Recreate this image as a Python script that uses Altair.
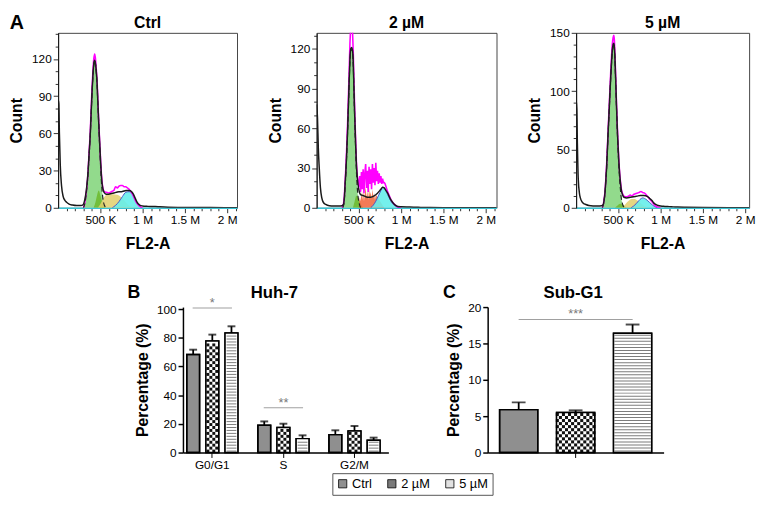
import altair as alt
import pandas as pd

FONT = "Liberation Sans"

# ---------------- Panel A : flow-cytometry histograms (x in K units of FL2-A, y = count)
CTRL_TOTAL = [(0, 87), (8, 84), (15, 60), (25, 35), (40, 18), (60, 9), (80, 6), (100, 4.5), (130, 3), (170, 2.2),
              (220, 1.8), (270, 1.8), (295, 2.5), (310, 5), (325, 10), (340, 18), (353, 28), (366, 43), (380, 59),
              (390, 75), (399, 90), (410, 105), (422, 116), (432, 119), (440, 117), (450, 111), (461, 100),
              (470, 85), (480, 69), (488, 57), (496, 46), (504, 35), (512, 26), (521, 19), (531, 15), (547, 12),
              (570, 11), (600, 11), (630, 11.5), (660, 12), (690, 12.5), (720, 13), (750, 13), (780, 13.5),
              (810, 14), (840, 14), (870, 13), (890, 11), (910, 8), (930, 5), (950, 3), (970, 2), (1000, 1.5),
              (1050, 1.2), (1100, 1), (1150, 1), (1200, 0.8), (1300, 0.5), (1500, 0.3), (1800, 0.2), (2150, 0.1)]
CTRL_FIT = [(300, 0), (320, 6), (340, 17), (353, 28), (366, 44), (380, 61), (390, 78), (399, 93), (410, 108),
            (422, 120), (432, 124), (440, 121), (450, 113), (461, 102), (470, 87), (480, 70), (488, 58), (496, 47),
            (504, 36), (512, 27), (521, 20), (531, 15.5), (547, 13), (570, 12.5), (600, 12), (630, 13), (660, 14),
            (680, 17), (700, 16), (720, 17.5), (740, 18), (760, 18), (780, 17), (800, 17), (820, 16), (840, 15),
            (860, 13), (880, 11), (900, 8), (920, 5), (940, 3), (960, 1.5), (980, 0.5), (1000, 0)]
CTRL_G1 = [(300, 0), (320, 5), (340, 16), (353, 27), (366, 42), (380, 58), (390, 74), (399, 89), (410, 104),
           (422, 115), (432, 119), (440, 117), (450, 110), (461, 99), (470, 84), (480, 68), (488, 55), (496, 43),
           (504, 31), (512, 21), (521, 13), (531, 7), (547, 2), (570, 0)]
CTRL_G1B = [(420, 0), (440, 4), (460, 10), (480, 14), (500, 10), (520, 5), (545, 1), (570, 0)]
CTRL_S = [(470, 0), (500, 3), (530, 7), (560, 10), (600, 11), (650, 11), (700, 10.5), (740, 9), (780, 6),
          (820, 3), (860, 1), (900, 0)]
CTRL_G2 = [(640, 0), (680, 2), (720, 5), (760, 9), (800, 12.5), (840, 13), (870, 12), (900, 8), (930, 4),
           (960, 1.5), (990, 0)]

UM2_TOTAL = [(0, 78), (10, 68), (20, 45), (31, 30), (45, 15), (61, 7.5), (80, 4), (107, 2.6), (150, 1.6),
             (200, 1.4), (260, 1.4), (300, 1.6), (318, 2.5), (328, 8), (337, 18), (347, 29), (356, 42), (366, 58),
             (376, 78), (386, 98), (394, 112), (404, 120), (414, 121), (424, 119), (433, 110), (442, 88), (452, 66),
             (462, 47), (471, 32), (481, 23), (491, 17), (505, 12), (520, 10), (560, 9), (600, 8), (640, 8),
             (680, 9), (720, 11), (760, 14), (780, 15.5), (800, 15), (820, 13), (840, 11), (870, 7), (900, 4),
             (930, 2), (960, 1), (1000, 0.8), (1100, 0.6), (1200, 0.4), (1300, 0.2), (1500, 0.1), (2150, 0.1)]
UM2_FIT = [(300, 0), (318, 3), (328, 9), (337, 20), (347, 32), (356, 46), (366, 63), (376, 84), (386, 106),
           (394, 124), (404, 138), (414, 142), (424, 134), (433, 118), (442, 95), (452, 70), (462, 50), (471, 34),
           (481, 24), (491, 19), (500, 16), (510, 24), (520, 12), (530, 27), (540, 14), (550, 29), (560, 11),
           (570, 26), (580, 33), (590, 15), (600, 28), (610, 12), (620, 31), (630, 18), (640, 29), (650, 14),
           (660, 33), (670, 19), (680, 30), (690, 17), (700, 34), (710, 20), (720, 28), (730, 18), (740, 26),
           (750, 19), (760, 24), (770, 18), (780, 22), (790, 19), (800, 19), (810, 18), (820, 16), (830, 14),
           (840, 12), (860, 9), (880, 6), (900, 4), (930, 2), (960, 0.5), (1000, 0)]
UM2_G1 = [(310, 0), (328, 6), (337, 16), (347, 27), (356, 40), (366, 56), (376, 76), (386, 96), (394, 110),
          (404, 118), (414, 120), (424, 117), (433, 108), (442, 86), (452, 63), (462, 43), (471, 27), (481, 15),
          (491, 8), (505, 3), (520, 0)]
UM2_G1B = [(430, 0), (450, 5), (470, 9), (490, 8), (510, 5), (530, 2), (550, 0)]
UM2_S = [(500, 0), (510, 8), (520, 5), (530, 12), (540, 6), (550, 14), (560, 5), (570, 11), (580, 16), (590, 7),
         (600, 13), (610, 6), (620, 15), (630, 9), (640, 12), (650, 7), (660, 14), (670, 8), (680, 11), (690, 6),
         (700, 10), (720, 8), (740, 6), (760, 4), (780, 2), (800, 0)]
UM2_G2 = [(640, 0), (670, 2), (700, 5), (730, 9), (760, 13), (780, 15.5), (800, 15), (820, 13), (840, 10),
          (870, 6), (900, 3), (930, 1.5), (970, 0)]

UM5_TOTAL = [(0, 92), (8, 85), (15, 55), (25, 25), (40, 12), (50, 8.5), (70, 5), (90, 3.5), (108, 3), (150, 2),
             (200, 1.6), (260, 1.6), (300, 1.8), (322, 3), (332, 7), (341, 12.6), (350, 22), (360, 34), (370, 50),
             (380, 67), (390, 82), (399, 97), (409, 112), (419, 125), (428, 135), (438, 140), (445, 141), (452, 138),
             (457, 132), (467, 112), (477, 89), (486, 70), (496, 53), (505, 40), (515, 29), (525, 21), (535, 15),
             (550, 11), (566, 9), (600, 8.5), (640, 9), (680, 9.5), (720, 10), (760, 10.5), (800, 10.5),
             (845, 9.6), (870, 8), (900, 6), (920, 4), (942, 3), (970, 2), (1000, 1.5), (1050, 1.2), (1100, 1),
             (1150, 0.8), (1200, 0.6), (1300, 0.4), (1500, 0.2), (2150, 0.1)]
UM5_FIT = [(310, 0), (322, 3), (332, 8), (341, 13.5), (350, 23), (360, 36), (370, 52), (380, 69), (390, 85),
           (399, 100), (409, 116), (419, 130), (428, 140), (438, 146), (445, 148), (452, 144), (457, 136),
           (467, 115), (477, 91), (486, 72), (496, 55), (505, 41), (515, 30), (525, 22), (535, 16), (550, 12),
           (566, 10), (600, 9.5), (620, 10), (640, 11), (660, 10), (680, 11.5), (700, 12), (720, 12.5), (740, 13),
           (767, 14), (790, 13), (810, 12.5), (830, 11), (850, 9.5), (870, 7.5), (900, 5), (920, 3), (942, 1.5),
           (970, 0.5), (1000, 0)]
UM5_G1 = [(310, 0), (322, 2.5), (332, 7), (341, 12), (350, 21), (360, 33), (370, 49), (380, 66), (390, 81),
          (399, 96), (409, 111), (419, 124), (428, 134), (438, 139), (445, 140), (452, 137), (457, 131), (467, 110),
          (477, 87), (486, 68), (496, 50), (505, 36), (515, 24), (525, 15), (535, 8), (550, 3), (570, 0)]
UM5_G1B = [(460, 0), (490, 2), (520, 3.5), (550, 3), (580, 1), (600, 0)]
UM5_S = [(540, 0), (570, 2), (600, 4.5), (630, 6.5), (660, 7.5), (690, 7.5), (720, 6.5), (750, 5), (780, 3),
         (820, 1), (850, 0)]
UM5_G2 = [(650, 0), (680, 1.5), (710, 3.5), (740, 6), (770, 8), (790, 8.5), (810, 8), (840, 6.5), (870, 4.5),
          (900, 2.5), (930, 1), (960, 0)]

PANEL_TITLES = ["Ctrl", "2 µM", "5 µM"]
Y_MAXES = [141, 132, 150]
Y_MAJOR_STEPS = [30, 30, 50]

# ---------------- Panel B : cell-cycle distribution
PHASES = ["G0/G1", "S", "G2/M"]
CONDITIONS = ["Ctrl", "2 µM", "5 µM"]
B_MEANS = {"Ctrl": [68.3, 19.0, 12.5], "2 µM": [77.8, 17.4, 15.0], "5 µM": [83.3, 9.7, 8.5]}
B_ERRS = {"Ctrl": [3.4, 2.7, 3.0], "2 µM": [4.4, 2.7, 3.5], "5 µM": [4.7, 2.3, 1.9]}
B_SIG_PHASE = ["G0/G1", "S"]
B_SIG_Y = [100.7, 31.3]
B_SIG_TEXT = ["*", "**"]

# ---------------- Panel C : Sub-G1
C_GROUP = "Sub-G1"
C_MEANS = [5.9, 5.5, 16.4]
C_ERRS = [1.0, 0.3, 1.2]
C_SIG_Y = [18.3]
C_SIG_TEXT = ["***"]

LEGEND_FILLS = ["#8f8f8f", "#7a7a7a", "#e2e2e2"]


def to_df(points):
    return pd.DataFrame(points, columns=["x", "y"])


def text_layer(txt, x, y, size, color="black", weight="bold", opacity=1):
    return alt.Chart(pd.DataFrame({"t": [txt]})).mark_text(
        font=FONT, fontSize=size, fontWeight=weight, align="center", baseline="middle", color=color,
        opacity=opacity,
    ).encode(text="t:N", x=alt.value(x), y=alt.value(y))


def hist_panel(title, curves, ymax, major, width, height, letter=None, jagged=False):
    total, fit, g1, g1b, sph, g2 = curves
    xmax = width * 500 / 43
    xs = alt.Scale(domain=[0, xmax], nice=False, zero=False)
    ys = alt.Scale(domain=[0, ymax], nice=False)
    xaxis = alt.Axis(
        values=list(range(100, int(xmax) + 1, 100)),
        labelExpr="datum.value === 500 ? '500 K' : (datum.value % 500 === 0 ? (datum.value / 1000) + ' M' : '')",
        tickSize={"condition": {"test": "datum.value % 500 === 0", "value": 5}, "value": 3},
        title="FL2-A", titleFontSize=16, titleFontWeight="bold", titlePadding=10,
        labelFontSize=12, labelPadding=2, domainColor="#39c4d4", domainWidth=1.5,
        tickColor="#333", labelFlush=False,
    )
    yaxis = alt.Axis(
        values=list(range(0, int(ymax) + 1, 10)),
        labelExpr=f"datum.value % {major} === 0 ? datum.label : ''",
        tickSize={"condition": {"test": f"datum.value % {major} === 0", "value": 5}, "value": 3},
        title="Count", titleFontSize=16, titleFontWeight="bold", titlePadding=7,
        labelFontSize=12, labelPadding=2, domainColor="#111", tickColor="#333",
    )
    X = alt.X("x:Q", scale=xs, axis=xaxis)
    Y = alt.Y("y:Q", scale=ys, axis=yaxis)
    interp = "linear" if jagged else "monotone"
    layers = [
        alt.Chart(to_df(g1)).mark_area(color="#86d67f", opacity=0.9, interpolate="monotone", clip=True).encode(X, Y),
        alt.Chart(to_df(g1b)).mark_area(color="#6cb82c", opacity=0.85, interpolate="monotone", clip=True).encode(X, Y),
        alt.Chart(to_df(sph)).mark_area(color=("#f0643a" if jagged else "#e2cf6c"), opacity=0.85,
                                        interpolate=interp, clip=True).encode(X, Y),
        alt.Chart(to_df(g2)).mark_area(color="#66eeea", opacity=0.9, interpolate="monotone", clip=True,
                                       line={"color": "#4d55c8", "strokeWidth": 1}).encode(X, Y),
        alt.Chart(to_df(fit)).mark_line(color="#ff00ff", strokeWidth=1.6, interpolate=interp, clip=True).encode(X, Y),
        alt.Chart(to_df(total)).mark_line(color="#1a1a1a", strokeWidth=1.5, interpolate="monotone", clip=True).encode(X, Y),
        alt.Chart(to_df(g1)).mark_line(color="#222", strokeWidth=1.2, strokeDash=[5, 3], interpolate="monotone",
                                       clip=True).encode(X, Y),
        text_layer(title, width / 2, -10, 16),
    ]
    if letter:
        layers.append(text_layer(letter, -42, -10, 20))
    return alt.layer(*layers).properties(
        width=width, height=height,
        view=alt.ViewBackground(stroke="#444", strokeWidth=1),
    )


TOP_W = [182, 183, 176]
TOP_H = 178
p1 = hist_panel(PANEL_TITLES[0], [CTRL_TOTAL, CTRL_FIT, CTRL_G1, CTRL_G1B, CTRL_S, CTRL_G2],
                Y_MAXES[0], Y_MAJOR_STEPS[0], TOP_W[0], TOP_H, letter="A")
p2 = hist_panel(PANEL_TITLES[1], [UM2_TOTAL, UM2_FIT, UM2_G1, UM2_G1B, UM2_S, UM2_G2],
                Y_MAXES[1], Y_MAJOR_STEPS[1], TOP_W[1], TOP_H, jagged=True)
p3 = hist_panel(PANEL_TITLES[2], [UM5_TOTAL, UM5_FIT, UM5_G1, UM5_G1B, UM5_S, UM5_G2],
                Y_MAXES[2], Y_MAJOR_STEPS[2], TOP_W[2], TOP_H)

# ---------------- bar charts
legend = alt.Legend(
    orient="none", legendX=279, legendY=448, direction="horizontal", title=None,
    symbolType="square", symbolSize=70, symbolStrokeColor="#000", symbolStrokeWidth=0.8,
    labelFont=FONT, labelFontSize=13, labelColor="black", strokeColor="#555", padding=4,
    columnPadding=13, labelOffset=3,
)
color = alt.Color("cond:N", scale=alt.Scale(domain=CONDITIONS, range=LEGEND_FILLS), legend=legend)


def bar_panel(df, group_field, groups, x_scale, x_axis, ys, yaxis, stripe_px, px_per_unit, bar_w, cap_w,
              sig_df, sig_w, title, title_xy, letter, letter_xy, width, height):
    X = alt.X(f"{group_field}:N", sort=groups, scale=x_scale, axis=x_axis)
    XO = alt.XOffset("cond:N", sort=CONDITIONS,
                     scale=alt.Scale(domain=CONDITIONS, paddingInner=0.33, paddingOuter=0.02))
    Y = alt.Y("value:Q", scale=ys, axis=yaxis)
    u = stripe_px / px_per_unit
    bars = alt.Chart(df).mark_bar(stroke="black", strokeWidth=1.5).encode(X, XO, Y, color=color)
    white = alt.Chart(df).transform_filter(alt.datum.cond != CONDITIONS[0]).mark_bar(
        fill="white", strokeWidth=0).encode(X, XO, Y)
    stripes = alt.Chart(df).transform_filter(alt.datum.cond == CONDITIONS[2]).transform_calculate(
        s=f"sequence({u / 2}, datum.value - {u / 3}, {u})"
    ).transform_flatten(["s"]).mark_tick(orient="horizontal", size=bar_w - 3, thickness=1, color="#444").encode(
        X, XO, alt.Y("s:Q", scale=ys, axis=yaxis))
    # checkerboard texture for the middle (2 µM) bar, which sits at the band centre
    ncol = int(round((bar_w - 1) / stripe_px))
    checks = []
    for j in range(ncol):
        dx = (j - (ncol - 1) / 2) * stripe_px
        start = u * (0.5 + (j % 2))
        checks.append(
            alt.Chart(df).transform_filter(alt.datum.cond == CONDITIONS[1]).transform_calculate(
                s=f"sequence({start}, datum.value - {u * 0.4}, {2 * u})"
            ).transform_flatten(["s"]).mark_square(
                size=stripe_px * stripe_px, color="#111", opacity=1, filled=True, strokeWidth=0, xOffset=dx
            ).encode(X, alt.Y("s:Q", scale=ys, axis=yaxis))
        )
    outline = alt.Chart(df).mark_bar(fill=None, stroke="black", strokeWidth=1.5).encode(X, XO, Y)
    err = alt.Chart(df).mark_rule(color="black", strokeWidth=1.8).encode(X, XO, Y, y2="upper:Q")
    cap = alt.Chart(df).mark_tick(orient="horizontal", size=cap_w, thickness=2, color="black").encode(
        X, XO, alt.Y("upper:Q", scale=ys, axis=yaxis))
    sig_line = alt.Chart(sig_df).mark_tick(orient="horizontal", size=sig_w, thickness=1, color="#777").encode(
        X, alt.Y("y:Q", scale=ys, axis=yaxis))
    sig_txt = alt.Chart(sig_df).mark_text(font=FONT, fontSize=13, color="#777", baseline="middle", dy=-5).encode(
        X, alt.Y("y:Q", scale=ys, axis=yaxis), text="t:N")
    layers = [bars, white, stripes] + checks + [outline, err, cap, sig_line, sig_txt,
                                                text_layer(title, title_xy[0], title_xy[1], 17),
                                                text_layer(letter, letter_xy[0], letter_xy[1], 18)]
    return alt.layer(*layers).properties(width=width, height=height)


rows = []
for cond in CONDITIONS:
    for ph, m, e in zip(PHASES, B_MEANS[cond], B_ERRS[cond]):
        rows.append({"phase": ph, "cond": cond, "value": m, "upper": m + e})
bdf = pd.DataFrame(rows)
bsig = pd.DataFrame({"phase": B_SIG_PHASE, "y": B_SIG_Y, "t": B_SIG_TEXT})

B_H, C_H = 148, 148
b_yaxis = alt.Axis(values=[0, 20, 40, 60, 80, 100], title="Percentage (%)", titleFontSize=16,
                   titleFontWeight="bold", titlePadding=6, labelFontSize=12, tickSize=5, domainWidth=1.5,
                   tickWidth=1.5, labelPadding=2)
b_xaxis = alt.Axis(title=None, labelAngle=0, labelFontSize=12, tickSize=5, domainWidth=1.5, tickWidth=1,
                   labelPadding=2)
pb = bar_panel(
    bdf, "phase", PHASES,
    alt.Scale(domain=PHASES, paddingInner=0.27, paddingOuter=0.08, align=0.3), b_xaxis,
    alt.Scale(domain=[0, 101.4], nice=False), b_yaxis, 3, B_H / 101.4, 13, 8,
    bsig, 40, "Huh-7", (93, -14), "B", (-50, -14), 209, B_H,
)

cdf = pd.DataFrame({"grp": [C_GROUP] * 3, "cond": CONDITIONS, "value": C_MEANS,
                    "upper": [m + e for m, e in zip(C_MEANS, C_ERRS)]})
csig = pd.DataFrame({"grp": [C_GROUP], "y": C_SIG_Y, "t": C_SIG_TEXT})
c_yaxis = alt.Axis(values=[0, 5, 10, 15, 20], title="Percentage (%)", titleFontSize=16,
                   titleFontWeight="bold", titlePadding=6, labelFontSize=12, tickSize=5, domainWidth=1.5,
                   tickWidth=1.5, labelPadding=2)
c_xaxis = alt.Axis(title=None, labels=False, tickSize=5, domainWidth=1.5, tickWidth=1)
pc = bar_panel(
    cdf, "grp", [C_GROUP],
    alt.Scale(domain=[C_GROUP], paddingInner=0, paddingOuter=0.07), c_xaxis,
    alt.Scale(domain=[0, 20], nice=False), c_yaxis, 3.1, C_H / 20, 40, 14,
    csig, 116, "Sub-G1", (87, -14), "C", (-39, -14), 179, C_H,
)

spacer = alt.Chart(pd.DataFrame({"v": [0]})).mark_point(opacity=0).encode(
    x=alt.value(0), y=alt.value(0)).properties(width=15, height=10)

top = alt.hconcat(p1, p2, p3, spacing=29)
bottom = alt.hconcat(spacer, pb, pc, spacing=55).resolve_scale(x="independent", y="independent",
                                                                xOffset="independent")

chart = alt.vconcat(top, bottom, spacing=33).properties(
    padding={"left": 0, "top": 0, "right": 0, "bottom": 0}
).configure_view(stroke=None).configure_axis(
    labelFont=FONT, titleFont=FONT, labelColor="black", titleColor="black", domainColor="black",
    tickColor="black", grid=False,
)

chart.save("out.html", embed_options={"renderer": "svg", "actions": False})
